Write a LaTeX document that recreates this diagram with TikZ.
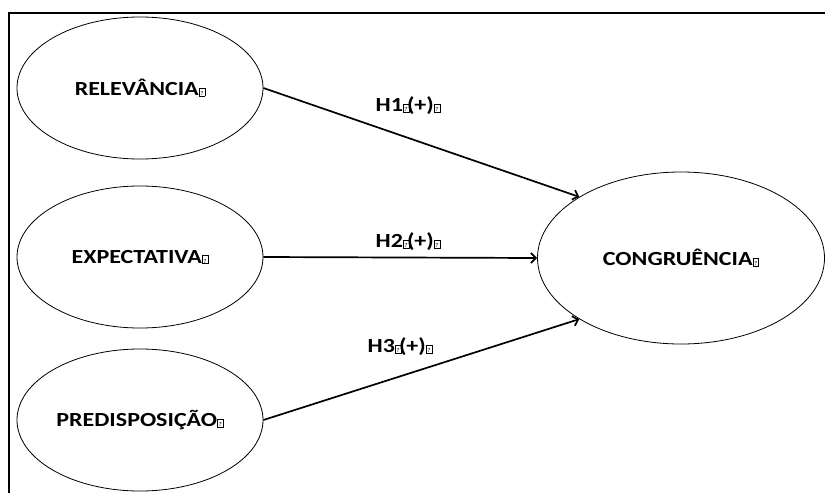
\documentclass[tikz,border=0pt]{standalone}
\usepackage{fontspec}
\setmainfont{Carlito}
\usepackage{tikz}
\usetikzlibrary{shapes.geometric,arrows.meta}
\newcommand{\qbox}{{\setlength{\fboxsep}{0.3pt}\setlength{\fboxrule}{0.6pt}\fbox{\makebox[3.6pt]{\rule{0pt}{7pt}\fontsize{6}{6}\selectfont\mdseries ?}}}}
\newcommand{\wide}[1]{\scalebox{1.2}[1]{#1}}
\tikzset{
	construct/.style={ellipse, draw, line width=0.8pt, inner sep=0pt,
		minimum width=246pt, minimum height=142pt,
		font=\fontsize{20}{22}\selectfont\bfseries},
	hyp/.style={font=\fontsize{20}{22}\selectfont\bfseries},
	path/.style={line width=1.7pt, -{Straight Barb[length=5pt,width=10pt]}}
}

\begin{document}
\begin{tikzpicture}[x=1pt,y=-1pt]
	\useasboundingbox (0,0) rectangle (825,493);
	\draw[line width=1.5pt] (825,13) -- (9,13) -- (9,493);

	\node[construct] (rel) at (140,88) {\wide{RELEVÂNCIA\qbox}};
	\node[construct] (exp) at (140,257) {\wide{EXPECTATIVA\qbox}};
	\node[construct] (pred) at (140,420) {\wide{PREDISPOSIÇÃO\qbox}};
	\node[construct, minimum width=287pt, minimum height=172pt] (cong) at (681,258) {\wide{CONGRUÊNCIA\qbox}};

	\node[hyp] (h1) at (408,106) {\wide{H1\qbox\kern-2pt(+)\qbox}};
	\node[hyp] (h2) at (408,242) {\wide{H2\qbox\kern-2pt(+)\qbox}};
	\node[hyp] (h3) at (400,347) {\wide{H3\qbox\kern-2pt(+)\qbox}};

	\draw[path] (rel.east) -- (cong.149);
	\draw[path] (exp.east) -- (cong.west);
	\draw[path] (pred.east) -- (cong.211);
\end{tikzpicture}
\end{document}
